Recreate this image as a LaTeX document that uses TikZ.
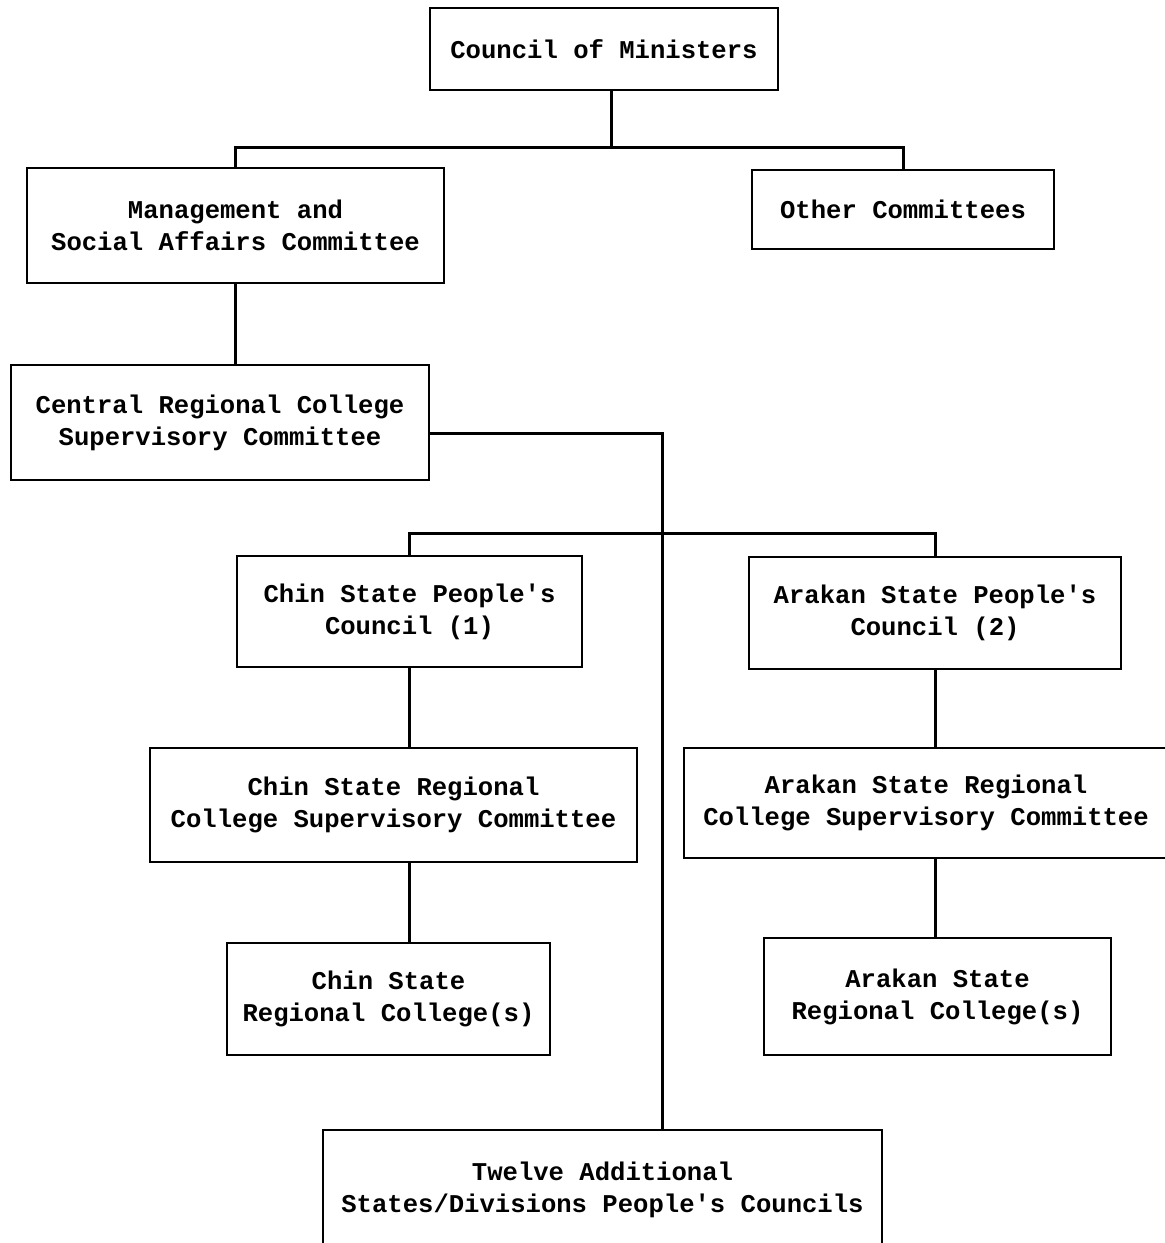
\documentclass[tikz,border=0pt]{standalone}
\usepackage{fontspec}
\setmonofont{Liberation Mono}

\begin{document}
\begin{tikzpicture}[
    x=0.5pt, y=-0.5pt,
    box/.style={rectangle, draw, line width=1.3pt, align=center, inner sep=0pt,
                font=\ttfamily\bfseries\fontsize{12.8}{16}\selectfont},
    link/.style={line width=1.5pt}
]
    \useasboundingbox (0,0) rectangle (1165,1243);
    \fill[white] (0,0) rectangle (1165,1243);

    % Top levels
    \node[box, minimum width=174pt, minimum height=41pt] (council) at (604,49) {Council of Ministers};
    \node[box, minimum width=208.5pt, minimum height=57.5pt] (mgmt) at (235.5,225.5) {Management and\\Social Affairs Committee};
    \node[box, minimum width=151pt, minimum height=39.5pt] (others) at (903,209.5) {Other Committees};
    \node[box, minimum width=209pt, minimum height=57.5pt] (central) at (220,422.5) {Central Regional College\\Supervisory Committee};

    % State councils
    \node[box, minimum width=172.5pt, minimum height=55.5pt] (chin1) at (409.5,611.5) {Chin State People's\\Council (1)};
    \node[box, minimum width=186pt, minimum height=56pt] (arakan1) at (935,613) {Arakan State People's\\Council (2)};

    % Supervisory committees
    \node[box, minimum width=243.5pt, minimum height=57pt] (chin2) at (393.5,805) {Chin State Regional\\College Supervisory Committee};
    \node[box, minimum width=242pt, minimum height=55pt] (arakan2) at (926,803) {Arakan State Regional\\College Supervisory Committee};

    % Colleges
    \node[box, minimum width=161.5pt, minimum height=56pt] (chin3) at (388.5,999) {Chin State\\Regional College(s)};
    \node[box, minimum width=173.5pt, minimum height=58.5pt] (arakan3) at (937.5,996.5) {Arakan State\\Regional College(s)};
    \node[box, minimum width=279.5pt, minimum height=60pt] (twelve) at (602.5,1190) {Twelve Additional\\States/Divisions People's Councils};

    % Junctions
    \coordinate (top) at (611,147);
    \coordinate (trunk) at (662,433);
    \coordinate (branch) at (662,533);

    % Connectors
    \draw[link] (council.south -| top) -- (top);
    \draw[link] (mgmt.north) |- (top) -| (others.north);
    \draw[link] (mgmt.south) -- (mgmt.south |- central.north);
    \draw[link] (central.east |- trunk) -- (trunk) -- (trunk |- twelve.north);
    \draw[link] (chin1.north) |- (branch) -| (arakan1.north);
    \draw[link] (chin1.south) -- (chin1.south |- chin2.north);
    \draw[link] (chin1.south |- chin2.south) -- (chin1.south |- chin3.north);
    \draw[link] (arakan1.south) -- (arakan1.south |- arakan2.north);
    \draw[link] (arakan1.south |- arakan2.south) -- (arakan1.south |- arakan3.north);
\end{tikzpicture}
\end{document}
